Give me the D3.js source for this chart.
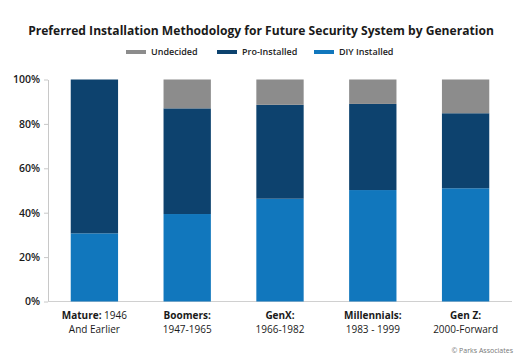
<!DOCTYPE html>
<html>
<head>
<meta charset="utf-8">
<script src="https://cdn.jsdelivr.net/npm/d3@7"></script>
<style>
  body { margin: 0; background: #fff; }
  svg { font-family: "Open Sans", sans-serif; }
</style>
</head>
<body>
<div id="chart"></div>
<script>
const categories = ['Mature', 'Boomers', 'GenX', 'Millennials', 'Gen Z']
const labelBold = ['Mature:', 'Boomers:', 'GenX:', 'Millennials:', 'Gen Z:']
const labelRest = [' 1946', '', '', '', '']
const labelLine2 = ['And Earlier', '1947-1965', '1966-1982', '1983 - 1999', '2000-Forward']
const diy = [30.7, 39.4, 46.3, 50.2, 51.0]
const pro = [69.3, 47.6, 42.3, 38.8, 33.8]
const undecided = [0, 13.0, 11.4, 11.0, 15.2]
const yTicks = [0, 20, 40, 60, 80, 100]

const seriesNames = ['DIY Installed', 'Pro-Installed', 'Undecided']
const colors = { 'DIY Installed': '#1177bd', 'Pro-Installed': '#0d426e', 'Undecided': '#8c8c8c' }
const legendOrder = ['Undecided', 'Pro-Installed', 'DIY Installed']

const width = 525
const height = 361
const margin = { top: 80, right: 13, bottom: 60, left: 48 }

const rows = categories.map((c, i) => ({
  cat: c, 'DIY Installed': diy[i], 'Pro-Installed': pro[i], 'Undecided': undecided[i]
}))

const svg = d3.select('#chart').append('svg')
  .attr('width', width)
  .attr('height', height)

const x = d3.scaleBand()
  .domain(categories)
  .range([margin.left, width - margin.right])
  .paddingInner(0.49)
  .paddingOuter(0.245)

const y = d3.scaleLinear()
  .domain([0, 100])
  .range([height - margin.bottom + 0.5, margin.top - 0.5])

// title
svg.append('text')
  .attr('x', 261)
  .attr('y', 35)
  .attr('text-anchor', 'middle')
  .attr('font-size', 12.1)
  .attr('font-weight', 700)
  .attr('fill', '#1a1a1a')
  .text('Preferred Installation Methodology for Future Security System by Generation')

// legend
const legendX = [126, 217, 314]
const legend = svg.append('g')
legendOrder.forEach((name, i) => {
  legend.append('rect')
    .attr('x', legendX[i])
    .attr('y', 50)
    .attr('width', 20)
    .attr('height', 4)
    .attr('fill', colors[name])
  legend.append('text')
    .attr('x', legendX[i] + 25)
    .attr('y', 55)
    .attr('font-size', 9)
    .attr('font-weight', 600)
    .attr('fill', '#222')
    .text(name)
})

// y axis
const yAxis = svg.append('g')
  .attr('transform', 'translate(' + margin.left + ',0)')
  .call(d3.axisLeft(y).tickValues(yTicks).tickFormat(d => d + '%').tickSize(4).tickSizeOuter(0))
yAxis.select('.domain').attr('stroke', '#c8c8c8')
yAxis.selectAll('.tick line').attr('stroke', '#c8c8c8')
yAxis.selectAll('.tick text')
  .attr('x', -8)
  .attr('font-size', 10.5)
  .attr('font-weight', 600)
  .attr('fill', '#1a1a1a')
  .attr('font-family', '"Open Sans", sans-serif')

// baseline
svg.append('line')
  .attr('x1', margin.left)
  .attr('x2', width - margin.right)
  .attr('y1', y(0))
  .attr('y2', y(0))
  .attr('stroke', '#d0d0d0')

// stacked bars
const stack = d3.stack().keys(seriesNames)
const layers = stack(rows)

svg.append('g')
  .selectAll('g')
  .data(layers)
  .join('g')
    .attr('fill', d => colors[d.key])
  .selectAll('rect')
  .data(d => d)
  .join('rect')
    .attr('x', d => x(d.data.cat))
    .attr('y', d => y(d[1]))
    .attr('width', x.bandwidth())
    .attr('height', d => y(d[0]) - y(d[1]))

// x labels
const xl = svg.append('g')
categories.forEach((c, i) => {
  const cx = x(c) + x.bandwidth() / 2
  const t1 = xl.append('text')
    .attr('x', cx)
    .attr('y', 319)
    .attr('text-anchor', 'middle')
    .attr('font-size', 10)
    .attr('fill', '#1a1a1a')
  t1.append('tspan').attr('font-weight', 700).text(labelBold[i])
  t1.append('tspan').attr('font-weight', 400).text(labelRest[i])
  xl.append('text')
    .attr('x', cx)
    .attr('y', 333)
    .attr('text-anchor', 'middle')
    .attr('font-size', 10)
    .attr('fill', '#1a1a1a')
    .text(labelLine2[i])
})

// source
svg.append('text')
  .attr('x', 513)
  .attr('y', 353)
  .attr('text-anchor', 'end')
  .attr('font-size', 7)
  .attr('fill', '#777')
  .text('© Parks Associates')
</script>
</body>
</html>
